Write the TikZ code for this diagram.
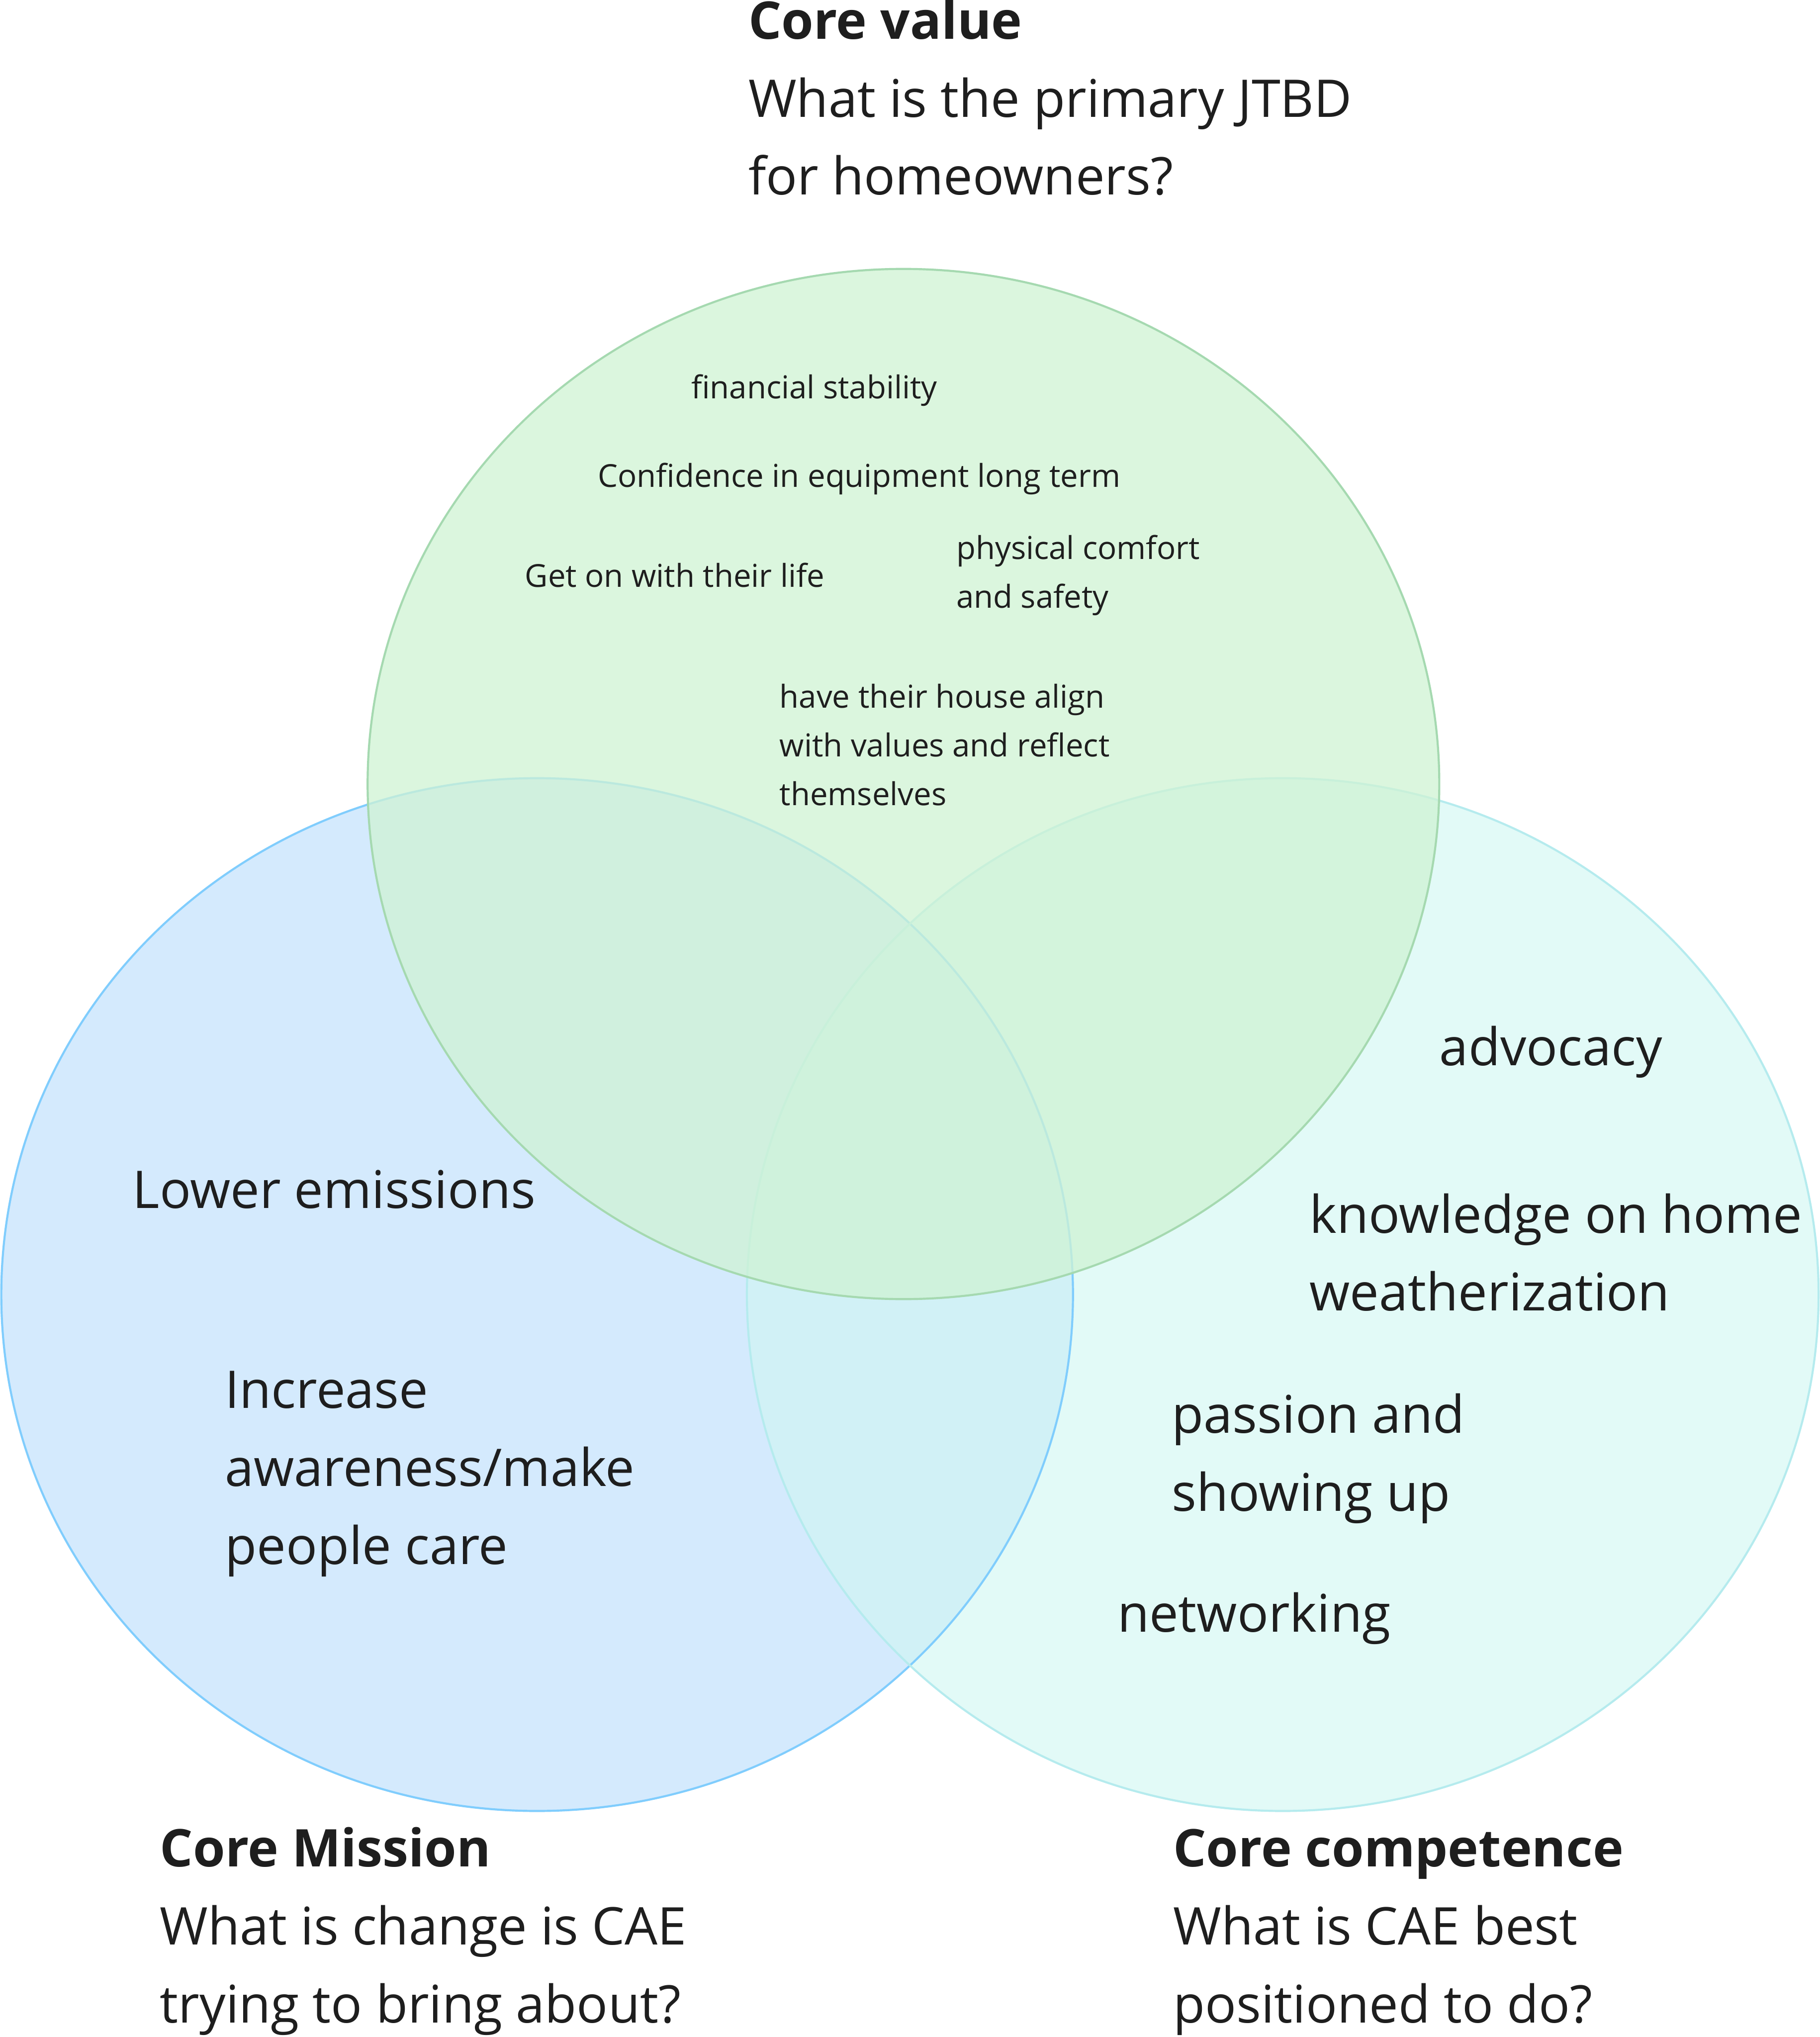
\documentclass[tikz,border=0pt]{standalone}
\usepackage{fontspec}
\setmainfont{Open Sans}
\definecolor{inkc}{HTML}{1E1E1E}
\definecolor{missionfill}{HTML}{D4EAFD}
\definecolor{missionline}{HTML}{80CDFD}
\definecolor{competefill}{RGB}{207,247,242}
\definecolor{competeline}{HTML}{B5EBEE}
\definecolor{valuefill}{RGB}{207,243,212}
\definecolor{valueline}{HTML}{A5D9B0}

\begin{document}
\begin{tikzpicture}[
  x=1pt,y=-1pt,
  ring/.style={line width=1.6pt},
  heading/.style={anchor=base west,align=left,inner sep=0pt,text=inkc,font=\fontsize{40}{60}\selectfont},
  big item/.style={anchor=base west,align=left,inner sep=0pt,text=inkc,font=\fontsize{40}{60}\selectfont},
  small item/.style={anchor=base west,align=left,inner sep=0pt,text=inkc,font=\fontsize{24.3}{37.5}\selectfont}
]
\useasboundingbox[fill=white] (0,0) rectangle (1401,1568);

% the three sets
\fill[missionfill] (413.5,996.5) ellipse [x radius=412.5pt,y radius=397.5pt];
\fill[competefill,fill opacity=0.6] (987.5,996.5) ellipse [x radius=412.5pt,y radius=397.5pt];
\draw[ring,missionline] (413.5,996.5) ellipse [x radius=412.5pt,y radius=397.5pt];
\draw[ring,competeline] (987.5,996.5) ellipse [x radius=412.5pt,y radius=397.5pt];
\fill[valuefill,fill opacity=0.75] (695.5,603.5) ellipse [x radius=412.5pt,y radius=396.5pt];
\draw[ring,valueline] (695.5,603.5) ellipse [x radius=412.5pt,y radius=396.5pt];

% headings (base = last line)
\node[heading] (cv) at (576,150) {\textbf{Core value}\\What is the primary JTBD\\for homeowners?};
\node[heading] (cm) at (123,1557) {\textbf{Core Mission}\\What is change is CAE\\trying to bring about?};
\node[heading] (cc) at (903,1557) {\textbf{Core competence}\\What is CAE best\\positioned to do?};

% core value
\node[small item] (v1) at (532,307) {financial stability};
\node[small item] (v2) at (460,375) {Confidence in equipment long term};
\node[small item] (v3) at (404,452) {Get on with their life};
\node[small item] (v4) at (736,468) {physical comfort\\and safety};
\node[small item] (v5) at (600,620) {have their house align\\with values and reflect\\themselves};

% core mission
\node[big item] (m1) at (102,930) {Lower emissions};
\node[big item] (m2) at (173,1204) {Increase\\awareness/make\\people care};

% core competence
\node[big item] (c1) at (1108,820) {advocacy};
\node[big item] (c2) at (1008,1009) {knowledge on home\\weatherization};
\node[big item] (c3) at (902,1163) {passion and\\showing up};
\node[big item] (c4) at (860,1256) {networking};
\end{tikzpicture}
\end{document}
